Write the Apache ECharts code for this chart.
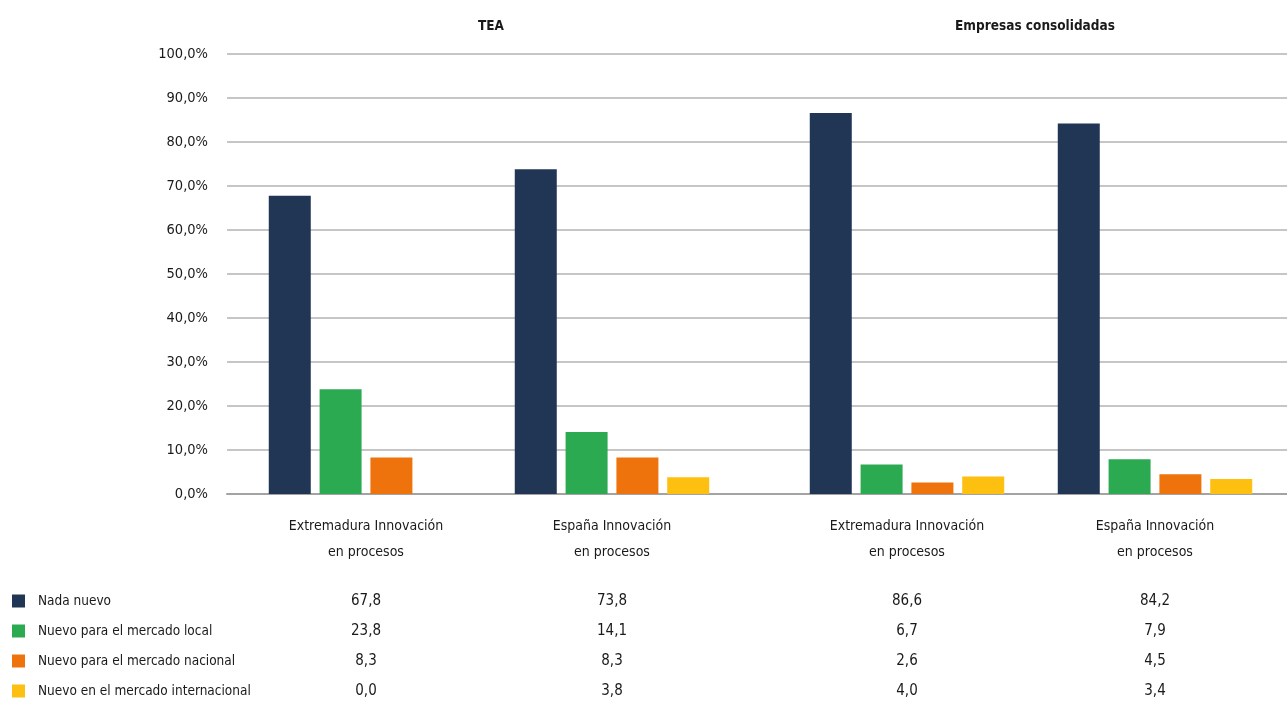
<!DOCTYPE html>
<html>
<head>
<meta charset="utf-8">
<script src="https://cdn.jsdelivr.net/npm/echarts@6/dist/echarts.min.js"></script>
<style>
    html, body { margin: 0; padding: 0; background: #fff; }
    #chart { width: 1287px; height: 701px; }
</style>
</head>
<body>
<div id="chart"></div>
<script>
// datos
const panels = ['TEA', 'Empresas consolidadas'];
const categories = [
    'Extremadura Innovación\nen procesos',
    'España Innovación\nen procesos',
    'Extremadura Innovación\nen procesos',
    'España Innovación\nen procesos'
];
const seriesNames = ['Nada nuevo', 'Nuevo para el mercado local', 'Nuevo para el mercado nacional', 'Nuevo en el mercado internacional'];
const nadaNuevo = [67.8, 73.8, 86.6, 84.2];
const mercadoLocal = [23.8, 14.1, 6.7, 7.9];
const mercadoNacional = [8.3, 8.3, 2.6, 4.5];
const mercadoInternacional = [0.0, 3.8, 4.0, 3.4];
const yMin = 0, yMax = 100, yStep = 10;

const seriesValues = [nadaNuevo, mercadoLocal, mercadoNacional, mercadoInternacional];
const colorList = ['#213654', '#2caa52', '#ee730d', '#fdbf10'];
const fontFamily = "'Liberation Sans Narrow', 'DejaVu Sans Condensed', sans-serif";
const textColor = '#1a1a1a';

const chart = echarts.init(document.getElementById('chart'));

function fmt(v) {
    return v.toFixed(1).replace('.', ',');
}

// etiqueta de categoria + tabla de valores debajo
function catLabel(offset) {
    return function (value, index) {
        let i = index + offset;
        let lines = categories[i].split('\n').map(function (l) { return '{c|' + l + '}'; });
        lines.push('{s| }');
        seriesValues.forEach(function (arr) {
            lines.push('{v|' + fmt(arr[i]) + '}');
        });
        return lines.join('\n');
    };
}

const richStyle = {
    c: { fontSize: 14, lineHeight: 26, color: textColor, fontFamily: fontFamily },
    s: { fontSize: 10, lineHeight: 21 },
    v: { fontSize: 15, lineHeight: 30, color: textColor, fontFamily: fontFamily }
};

const gridTop = 54, gridBottom = 207;

let series = [];
seriesNames.forEach(function (name, s) {
    [0, 1].forEach(function (p) {
        series.push({
            name: name,
            type: 'bar',
            xAxisIndex: p + 1,
            yAxisIndex: p + 1,
            barWidth: 42,
            barGap: '21%',
            itemStyle: { color: colorList[s] },
            data: seriesValues[s].slice(p * 2, p * 2 + 2)
        });
    });
});

const option = {
    backgroundColor: '#fff',
    color: colorList,
    textStyle: { fontFamily: fontFamily },
    title: [
        { text: panels[0], left: 486, top: 14, textAlign: 'center',
          textStyle: { fontSize: 13.5, fontWeight: 'bold', color: textColor, fontFamily: fontFamily } },
        { text: panels[1], left: 1030, top: 14, textAlign: 'center',
          textStyle: { fontSize: 13.5, fontWeight: 'bold', color: textColor, fontFamily: fontFamily } }
    ],
    legend: {
        data: seriesNames,
        orient: 'vertical',
        left: 12,
        top: 591,
        padding: 0,
        icon: 'rect',
        itemWidth: 13,
        itemHeight: 13,
        itemGap: 10,
        textStyle: { fontSize: 13.5, lineHeight: 20, color: textColor, fontFamily: fontFamily, padding: [0, 0, 0, 8] }
    },
    grid: [
        { left: 227, right: 0, top: gridTop, bottom: gridBottom },
        { left: 243, width: 492, top: gridTop, bottom: gridBottom },
        { left: 783, width: 496, top: gridTop, bottom: gridBottom }
    ],
    xAxis: [
        {
            gridIndex: 0, type: 'category', data: [''],
            axisLine: { show: true, lineStyle: { color: '#a3a3a3', width: 2 } },
            axisTick: { show: false }, axisLabel: { show: false }, splitLine: { show: false }
        },
        {
            gridIndex: 1, type: 'category', data: categories.slice(0, 2),
            axisLine: { show: false }, axisTick: { show: false },
            axisLabel: { interval: 0, margin: 19, formatter: catLabel(0), rich: richStyle }
        },
        {
            gridIndex: 2, type: 'category', data: categories.slice(2, 4),
            axisLine: { show: false }, axisTick: { show: false },
            axisLabel: { interval: 0, margin: 19, formatter: catLabel(2), rich: richStyle }
        }
    ],
    yAxis: [
        {
            gridIndex: 0, type: 'value', min: yMin, max: yMax, interval: yStep,
            axisLine: { show: false }, axisTick: { show: false },
            axisLabel: {
                margin: 19, fontSize: 14.5, color: textColor, fontFamily: fontFamily,
                formatter: function (v) { return fmt(v) + '%'; }
            },
            splitLine: { show: true, lineStyle: { color: '#b3b3b3', width: 1.5 } }
        },
        { gridIndex: 1, type: 'value', min: yMin, max: yMax, show: false, splitLine: { show: false } },
        { gridIndex: 2, type: 'value', min: yMin, max: yMax, show: false, splitLine: { show: false } }
    ],
    series: series
};

chart.setOption(option);

window.onresize = function () {
    chart.resize();
};
</script>
</body>
</html>
